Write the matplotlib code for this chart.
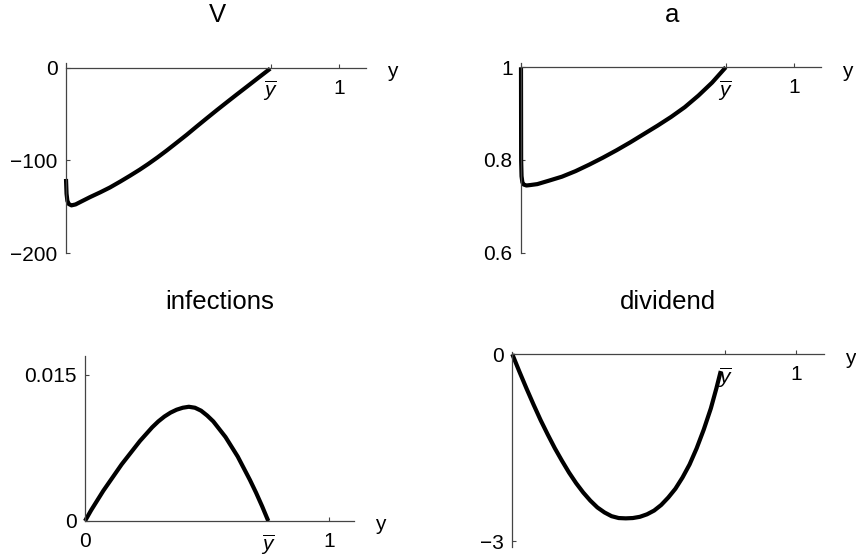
import matplotlib
matplotlib.use('Agg')
from matplotlib import pyplot as plt
from matplotlib import transforms

plt.rcParams['font.family'] = ['Liberation Sans', 'DejaVu Sans']
plt.rcParams['mathtext.fontset'] = 'custom'
plt.rcParams['mathtext.it'] = 'Liberation Sans:italic'
plt.rcParams['mathtext.rm'] = 'Liberation Sans'

YBAR = 0.75

# values
v_y = [0, 0.002, 0.005, 0.01, 0.02, 0.035, 0.055, 0.088, 0.125, 0.161, 0.2,
       0.234, 0.27, 0.301, 0.335, 0.369, 0.405, 0.442, 0.478, 0.515, 0.552,
       0.589, 0.625, 0.662, 0.7, 0.748]
v_val = [-120, -136, -143.5, -147, -148.5, -147.5, -144.5, -139.6, -134.5,
         -129.2, -122.6, -116.6, -110, -103.9, -96.8, -89.3, -81, -72.4,
         -63.6, -54.7, -45.9, -37.3, -29, -20.6, -11.9, -1]

a_y = [0, 0.0005, 0.002, 0.005, 0.01, 0.02, 0.035, 0.06, 0.1, 0.15, 0.2,
       0.25, 0.3, 0.35, 0.4, 0.45, 0.5, 0.55, 0.6, 0.65, 0.7, 0.75]
a_val = [1.0, 0.80, 0.765, 0.752, 0.747, 0.745, 0.746, 0.748, 0.755, 0.764,
         0.776, 0.79, 0.805, 0.821, 0.838, 0.856, 0.874, 0.893, 0.914, 0.939,
         0.967, 1.0]

inf_y = [0, 0.025, 0.05, 0.075, 0.1, 0.125, 0.15, 0.175, 0.2, 0.225, 0.25,
         0.275, 0.3, 0.325, 0.35, 0.375, 0.4, 0.425, 0.45, 0.475, 0.5, 0.525,
         0.55, 0.575, 0.6, 0.625, 0.65, 0.675, 0.7, 0.725, 0.75]
inf_val = [0, 0.0011, 0.0021, 0.0031, 0.0040, 0.0049, 0.0058, 0.0066, 0.0074,
           0.0082, 0.0089, 0.0096, 0.0102, 0.0107, 0.0111, 0.0114, 0.0116,
           0.0117, 0.0116, 0.0113, 0.0108, 0.0102, 0.0094, 0.0086, 0.0076,
           0.0066, 0.0054, 0.0042, 0.0029, 0.0015, 0.0]

div_y = [0, 0.025, 0.05, 0.075, 0.1, 0.125, 0.15, 0.175, 0.2, 0.225, 0.25,
         0.275, 0.3, 0.325, 0.35, 0.375, 0.4, 0.425, 0.45, 0.475, 0.5, 0.525,
         0.55, 0.575, 0.6, 0.625, 0.65, 0.675, 0.7, 0.72, 0.735]
div_val = [0, -0.28, -0.55, -0.81, -1.06, -1.29, -1.51, -1.71, -1.90, -2.07,
           -2.22, -2.35, -2.46, -2.54, -2.60, -2.63, -2.635, -2.63, -2.61,
           -2.57, -2.51, -2.42, -2.30, -2.16, -1.98, -1.77, -1.51, -1.21,
           -0.87, -0.54, -0.27]

W, H = 856, 560
fig = plt.figure(figsize=(W / 100, H / 100), dpi=100)
AXC = '#444444'
TICK_FS = 15
TITLE_FS = 18.5


def panel(left, right, top, bottom, xs, ys, ylim, xaxis_at, xticks, xlabels,
          yticks, ylabels, title, tx, tbase):
    ax = fig.add_axes([left / W, 1 - bottom / H, (right - left) / W,
                       (bottom - top) / H])
    ax.plot(xs, ys, color='black', lw=3, clip_on=False,
            solid_joinstyle='round', solid_capstyle='butt')
    ax.set_xlim(0, 1.1)
    ax.set_ylim(*ylim)
    for s in ['top', 'right']:
        ax.spines[s].set_visible(False)
    ax.spines['left'].set_position(('data', 0))
    ax.spines['bottom'].set_position(('data', xaxis_at))
    for s in ['left', 'bottom']:
        ax.spines[s].set_color(AXC)
        ax.spines[s].set_linewidth(0.9)
    ax.set_xticks(xticks)
    ax.set_xticklabels(xlabels)
    ax.set_yticks(yticks)
    ax.set_yticklabels(ylabels)
    ax.tick_params(direction='in', length=3, width=0.8, color=AXC,
                   labelsize=TICK_FS)
    ax.tick_params(axis='x', pad=8)
    ax.tick_params(axis='y', pad=6)
    # axis name at the end of the horizontal axis
    ax.text(1.1, xaxis_at, 'y', fontsize=TICK_FS, ha='left', va='center',
            transform=transforms.offset_copy(ax.transData, fig=fig,
                                             x=21, y=-4, units='dots'),
            clip_on=False)
    fig.text(tx / W, 1 - tbase / H, title, fontsize=TITLE_FS, ha='center',
             va='baseline')
    return ax


ybar = r'$\overline{y}$'

panel(66, 366.3, 62.7, 253.1, v_y, v_val, (-200, 5.4), 0,
      [YBAR, 1], [ybar, '1'], [-200, -100, 0], ['\u2212200', '\u2212100', '0'],
      'V', 217, 21.7)

panel(521, 821.3, 63.3, 252.7, a_y, a_val, (0.6, 1.0086), 1,
      [YBAR, 1], [ybar, '1'], [0.6, 0.8, 1], ['0.6', '0.8', '1'],
      'a', 671.7, 21.7)

panel(85, 353.8, 356, 521, inf_y, inf_val, (0, 0.0169), 0,
      [0, YBAR, 1], ['0', ybar, '1'], [0, 0.015], ['0', '0.015'],
      'infections', 220, 309.3)

panel(512.3, 824.3, 351.7, 546.7, div_y, div_val, (-3.09, 0.04), 0,
      [YBAR, 1], [ybar, '1'], [-3, 0], ['\u22123', '0'],
      'dividend', 667.8, 309.3)

fig.savefig('out.png', dpi=100)
